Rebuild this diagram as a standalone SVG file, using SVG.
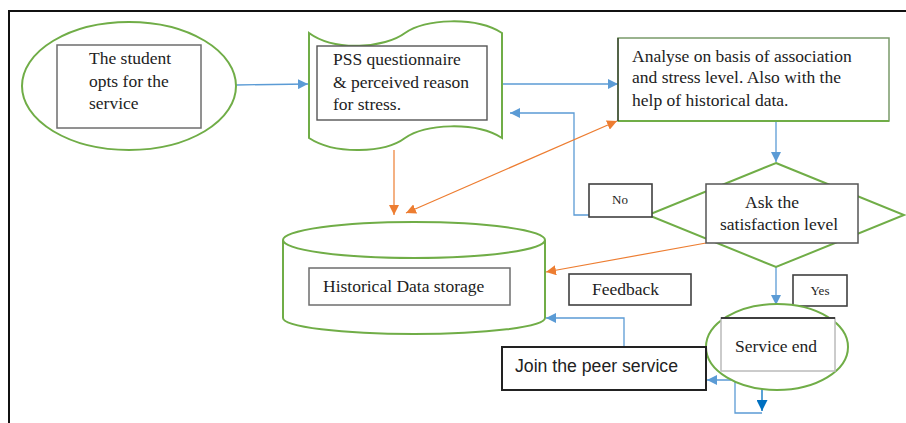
<svg xmlns="http://www.w3.org/2000/svg" width="906" height="423" viewBox="0 0 906 423">
<style>
.serif{font-family:"Liberation Serif","Times New Roman",serif;font-size:17.5px;fill:#222}
.small{font-family:"Liberation Serif","Times New Roman",serif;font-size:13px;fill:#222}
.sans{font-family:"Liberation Sans",Arial,sans-serif;font-size:17.5px;fill:#222}
.green{fill:#fff;stroke:#70AD47;stroke-width:2}
.box{fill:#fff;stroke:#6e6e6e;stroke-width:1.5}
.dbox{fill:#fff;stroke:#404040;stroke-width:1.6}
.blue{fill:none;stroke:#5B9BD5;stroke-width:1.3}
.orange{fill:none;stroke:#ED7D31;stroke-width:1.2}
</style>
<defs>
<marker id="ab" viewBox="0 0 10 10" refX="10" refY="5" markerWidth="10" markerHeight="10" markerUnits="userSpaceOnUse" orient="auto"><path d="M0,0 L10,5 L0,10 Z" fill="#5B9BD5"/></marker>
<marker id="abd" viewBox="0 0 10 10" refX="10" refY="5" markerWidth="11" markerHeight="11" markerUnits="userSpaceOnUse" orient="auto"><path d="M0,0 L10,5 L0,10 Z" fill="#0070C0"/></marker>
<marker id="ao" viewBox="0 0 10 10" refX="10" refY="5" markerWidth="10" markerHeight="10" markerUnits="userSpaceOnUse" orient="auto"><path d="M0,0 L10,5 L0,10 Z" fill="#ED7D31"/></marker>
<marker id="aos" viewBox="0 0 10 10" refX="0" refY="5" markerWidth="10" markerHeight="10" markerUnits="userSpaceOnUse" orient="auto"><path d="M10,0 L0,5 L10,10 Z" fill="#ED7D31"/></marker>
</defs>
<rect width="906" height="423" fill="#fff"/>
<g id="frame"><path d="M9,423 L9,11 L906,11" fill="none" stroke="#111" stroke-width="2"/></g>

<g id="connectors">
<line class="blue" x1="236" y1="85" x2="308" y2="84" marker-end="url(#ab)"/>
<line class="blue" x1="502" y1="84" x2="618" y2="84" marker-end="url(#ab)"/>
<line class="blue" x1="776" y1="121" x2="776" y2="162" marker-end="url(#ab)"/>
<path class="blue" d="M648,215 L574,215 L574,113 L510,113" marker-end="url(#ab)"/>
<line class="blue" x1="776" y1="267" x2="776" y2="305" marker-end="url(#ab)"/>
<path class="blue" d="M624,347 L624,318 L546,318" marker-end="url(#ab)"/>
<path class="blue" d="M762,413 L735,413 L735,380 L707,380" marker-end="url(#ab)"/>
<line x1="762" y1="388" x2="762" y2="411" stroke="#0070C0" stroke-width="1.3" marker-end="url(#abd)"/>
<line class="orange" x1="394" y1="150" x2="394" y2="215" marker-end="url(#ao)"/>
<line class="orange" x1="406" y1="213" x2="617" y2="121" marker-start="url(#aos)" marker-end="url(#ao)"/>
<line class="orange" x1="706" y1="243" x2="546" y2="272" marker-end="url(#ao)"/>
</g>

<g id="student">
<ellipse class="green" cx="129" cy="86" rx="107" ry="64"/>
<rect class="box" x="57" y="45" width="144" height="83"/>
<text class="serif" x="89" y="64">The student</text>
<text class="serif" x="89" y="87">opts for the</text>
<text class="serif" x="89" y="109">service</text>
</g>

<g id="pss">
<path class="green" d="M309,33 C335,52 385,48 405,33 C425,19 475,16 502,33 L502,138 C475,121 425,124 405,138 C385,153 335,155 309,138 Z"/>
<rect fill="#fff" stroke="#555" stroke-width="1.4" x="317" y="46" width="170" height="74"/>
<text class="serif" x="333" y="65">PSS questionnaire</text>
<text class="serif" x="333" y="88">&amp; perceived reason</text>
<text class="serif" x="333" y="110">for stress.</text>
</g>

<g id="analyse">
<rect fill="#fff" stroke="#7a9a6a" stroke-width="1.5" x="618" y="38" width="271" height="83"/>
<line x1="618" y1="121" x2="889" y2="121" stroke="#70AD47" stroke-width="2"/>
<line x1="618" y1="38" x2="618" y2="121" stroke="#3d4a30" stroke-width="1.5"/>
<text class="serif" x="632" y="62">Analyse on basis of association</text>
<text class="serif" x="632" y="83">and stress level. Also with the</text>
<text class="serif" x="632" y="106">help of historical data.</text>
</g>

<g id="storage">
<path class="green" d="M283,240 L283,318 A131,16 0 0 0 545,318 L545,240"/>
<ellipse class="green" cx="414" cy="240" rx="131" ry="18"/>
<rect class="box" x="309" y="268" width="201" height="37"/>
<text class="serif" x="323" y="292">Historical Data storage</text>
</g>

<g id="decision">
<path class="green" d="M776,163 L904,215 L776,267 L648,215 Z"/>
<rect fill="#fff" stroke="#555" stroke-width="1.5" x="706" y="184" width="152" height="59"/>
<text class="serif" x="772" y="208" text-anchor="middle">Ask the</text>
<text class="serif" x="779" y="230" text-anchor="middle">satisfaction level</text>
</g>

<g id="no">
<rect class="dbox" x="589" y="184" width="63" height="33"/>
<text class="small" x="620" y="204" text-anchor="middle">No</text>
</g>

<g id="feedback">
<rect class="dbox" x="569" y="274" width="122" height="31"/>
<text class="serif" x="592" y="295">Feedback</text>
</g>

<g id="yes">
<rect class="dbox" x="793" y="275" width="54" height="31"/>
<text class="small" x="820" y="295" text-anchor="middle">Yes</text>
</g>

<g id="service-end">
<ellipse class="green" cx="777" cy="347" rx="71" ry="43"/>
<rect fill="#fff" stroke="#bbb" stroke-width="1.5" x="721" y="318" width="114" height="53"/>
<line x1="721" y1="318" x2="835" y2="318" stroke="#111" stroke-width="1.5"/>
<text class="serif" x="735" y="352">Service end</text>
</g>

<g id="peer">
<rect fill="#fff" stroke="#222" stroke-width="2" x="502" y="347" width="204" height="43"/>
<text class="sans" x="515" y="372" textLength="163" lengthAdjust="spacingAndGlyphs">Join the peer service</text>
</g>
</svg>
